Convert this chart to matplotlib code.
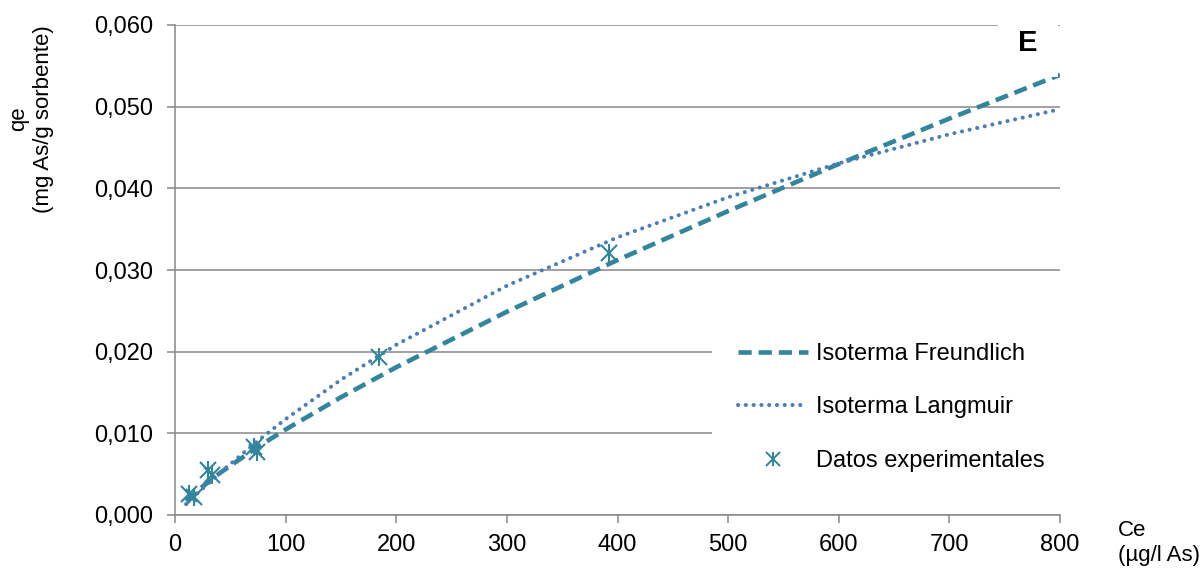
import matplotlib
matplotlib.use("Agg")
import matplotlib.pyplot as plt
from matplotlib.ticker import FuncFormatter
from matplotlib.lines import Line2D
from matplotlib.legend_handler import HandlerTuple

plt.rcParams['font.family'] = ['Liberation Sans', 'DejaVu Sans']
plt.rcParams['lines.scale_dashes'] = False

# Data
ce_curve = [10, 20, 40, 75, 100, 150, 200, 300, 400, 500, 600, 700, 800]
q_freundlich = [0.00171, 0.00295, 0.00509, 0.00835, 0.01047, 0.01442, 0.01809,
                0.02489, 0.03122, 0.03722, 0.04298, 0.04854, 0.05390]
q_langmuir = [0.00133, 0.00262, 0.00509, 0.00910, 0.01174, 0.01656, 0.02084,
              0.02808, 0.03400, 0.03891, 0.04306, 0.04662, 0.04969]
ce_exp = [13, 17, 30, 33, 71, 74, 184, 392]
q_exp = [0.0026, 0.0022, 0.0055, 0.0049, 0.0083, 0.0077, 0.0193, 0.0321]

labels = ["Isoterma Freundlich", "Isoterma Langmuir", "Datos experimentales"]
x_ticks = [0, 100, 200, 300, 400, 500, 600, 700, 800]
y_ticks = [0.0, 0.01, 0.02, 0.03, 0.04, 0.05, 0.06]

teal = '#31859C'
blue = '#4A7EBB'
grid_c = '#888888'

fig = plt.figure(figsize=(12, 5.72), dpi=100)
ax = fig.add_axes([175/1200, 1-515/572, 885/1200, 490/572])

ax.set_xlim(0, 800)
ax.set_ylim(0, 0.06)
ax.set_xticks(x_ticks)
ax.set_yticks(y_ticks)
ax.yaxis.set_major_formatter(FuncFormatter(lambda v, p: f"{v:.3f}".replace('.', ',')))
ax.xaxis.set_major_formatter(FuncFormatter(lambda v, p: f"{int(round(v))}"))

ax.grid(axis='y', color=grid_c, lw=1.1, zorder=0)
ax.set_axisbelow(True)
for s in ['top', 'right']:
    ax.spines[s].set_visible(False)
for s in ['left', 'bottom']:
    ax.spines[s].set_color(grid_c)
    ax.spines[s].set_linewidth(1.1)
ax.tick_params(axis='both', direction='out', length=5.5, width=1.1, color=grid_c,
               labelsize=17, labelcolor='#000000')
ax.tick_params(axis='y', pad=10)
ax.tick_params(axis='x', pad=8)

ax.plot(ce_curve, q_freundlich, color=teal, lw=3.3, dashes=(9.5, 5),
        dash_capstyle='butt', zorder=3)
ax.plot(ce_curve, q_langmuir, color=blue, lw=2.9, dashes=(0.1, 5.5),
        dash_capstyle='round', zorder=3)
ax.plot(ce_exp, q_exp, ls='none', marker='x', ms=11.5, mew=1.5, color=teal, zorder=4)
ax.plot(ce_exp, q_exp, ls='none', marker='|', ms=12.5, mew=1.5, color=teal, zorder=4)

h1 = Line2D([], [], color=teal, lw=3.3, dashes=(9.5, 5), dash_capstyle='butt')
h2 = Line2D([], [], color=blue, lw=2.9, dashes=(0.1, 5.5), dash_capstyle='round')
hm1 = Line2D([], [], ls='none', marker='x', ms=9.5, mew=1.4, color=teal)
hm2 = Line2D([], [], ls='none', marker='|', ms=10.5, mew=1.4, color=teal)

leg = ax.legend([h1, h2, (hm1, hm2)], labels,
                handler_map={tuple: HandlerTuple(ndivide=1, pad=0)},
                loc='upper left', bbox_to_anchor=((712-175)/885, (515-317)/490),
                borderaxespad=0, frameon=True, fancybox=False, framealpha=1,
                facecolor='white', edgecolor='none', fontsize=17,
                handlelength=2.95, handletextpad=0.35, labelspacing=1.33,
                borderpad=1.1)
leg.set_zorder(5)

ax.text(1028/1200, 1-43/572, "E", transform=fig.transFigure, fontsize=21,
        fontweight='bold', ha='center', va='center', zorder=6,
        bbox=dict(boxstyle='square,pad=0.7', fc='white', ec='none'))

fig.text(31/1200, 1-119/572, "qe\n(mg As/g sorbente)", rotation=90, fontsize=16,
         ha='center', va='center', multialignment='center', linespacing=1.2)
fig.text(1118/1200, 1-543/572, "Ce\n(µg/l As)", fontsize=16, ha='left',
         va='center', multialignment='left', linespacing=1.25)

fig.savefig("out.png", dpi=100)
